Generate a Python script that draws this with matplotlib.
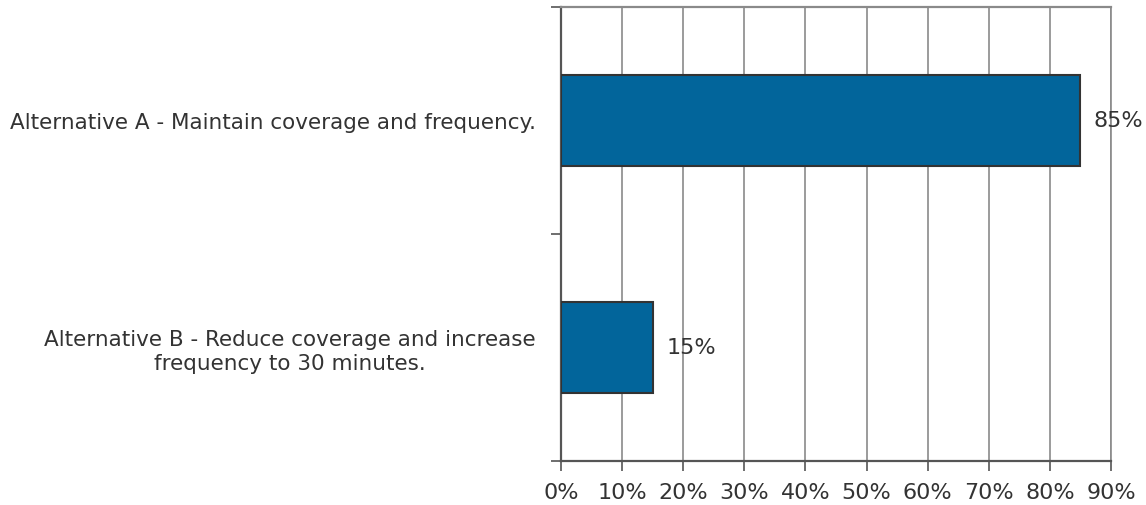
import matplotlib
matplotlib.use("Agg")
import matplotlib.pyplot as plt
from matplotlib.ticker import FixedLocator, PercentFormatter

categories = [
    "Alternative A - Maintain coverage and frequency.",
    "Alternative B - Reduce coverage and increase\nfrequency to 30 minutes.",
]
shares = [85, 15]
x_ticks = [0, 10, 20, 30, 40, 50, 60, 70, 80, 90]

plt.rcParams["font.family"] = ["DejaVu Sans"]
text_color = "#333333"

fig = plt.figure(figsize=(11.46, 5.06), dpi=100)
ax = fig.add_axes([561 / 1146, 1 - 462 / 506, 550 / 1146, 454 / 506])

ypos = list(range(len(categories)))
ax.barh(ypos, shares, height=0.4, color="#02659B", edgecolor="#333333",
        linewidth=1.5, zorder=3)

for y, v in zip(ypos, shares):
    ax.text(v + 2.2, y, f"{v}%", va="center", ha="left", fontsize=16,
            color=text_color, zorder=4)

ax.set_xlim(0, 90)
ax.set_ylim(1.5, -0.5)
ax.set_xticks(x_ticks)
ax.xaxis.set_major_formatter(PercentFormatter(decimals=0))
ax.xaxis.grid(True, color="#8a8a8a", linewidth=1.2, zorder=0)

ax.set_yticks(ypos)
ax.set_yticklabels(categories, fontsize=15.5, color=text_color,
                   multialignment="center", linespacing=1.2)
ax.yaxis.set_minor_locator(FixedLocator([-0.5, 0.5, 1.5]))
ax.tick_params(axis="y", which="major", length=0, pad=18)
ax.tick_params(axis="y", which="minor", length=7, width=1.2, color="#555555")
ax.tick_params(axis="x", length=7, width=1.2, color="#555555",
               labelsize=16, labelcolor=text_color, pad=8)

for side in ("left", "bottom"):
    ax.spines[side].set_color("#555555")
    ax.spines[side].set_linewidth(1.6)
ax.spines["top"].set_color("#8a8a8a")
ax.spines["top"].set_linewidth(1.6)
ax.spines["right"].set_color("#8a8a8a")
ax.spines["right"].set_linewidth(1.2)

fig.savefig("out.png", dpi=100)
